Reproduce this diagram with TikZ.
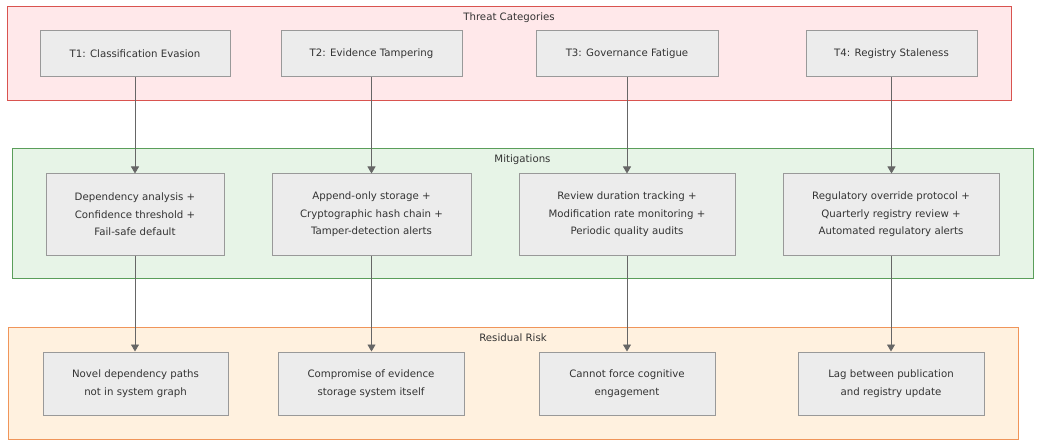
\documentclass[tikz,border=0pt]{standalone}
\usepackage{fontspec}
\setmainfont{DejaVu Sans}
\usetikzlibrary{arrows.meta}
\definecolor{redfill}{HTML}{FFE8EA}
\definecolor{redline}{HTML}{D9534F}
\definecolor{greenfill}{HTML}{E7F4E7}
\definecolor{greenline}{HTML}{5A9E5A}
\definecolor{orangefill}{HTML}{FFF1DF}
\definecolor{orangeline}{HTML}{F0955A}
\definecolor{nodefill}{HTML}{ECECEC}
\definecolor{nodeline}{HTML}{999999}
\definecolor{arrowcol}{HTML}{666666}
\definecolor{txt}{HTML}{333333}
\begin{document}
\begin{tikzpicture}[x=1pt,y=-1pt,
  grp/.style={draw, line width=1pt, inner sep=0pt},
  grptitle/.style={text=txt, font=\fontsize{10.2}{13}\selectfont, inner sep=0pt},
  box/.style={draw=nodeline, fill=nodefill, line width=1pt, inner sep=0pt, align=center,
    text=txt, font=\fontsize{10.2}{17.5}\selectfont},
  arr/.style={draw=arrowcol, line width=0.9pt, -{Triangle[width=8pt,length=7pt]}}
]
\useasboundingbox (0,0) rectangle (1040,446);
\node[grp, draw=redline, fill=redfill, minimum width=1004pt, minimum height=94pt] (gT) at (509,54) {};
\node[grp, draw=greenline, fill=greenfill, minimum width=1021pt, minimum height=129pt] (gM) at (522.5,213.5) {};
\node[grp, draw=orangeline, fill=orangefill, minimum width=1010pt, minimum height=112pt] (gR) at (513,383) {};
\node[grptitle] (tT) at (509,17.5) {Threat Categories};
\node[grptitle] (tM) at (522.5,159.5) {Mitigations};
\node[grptitle] (tR) at (513,337.5) {Residual Risk};

\node[box, minimum width=190pt, minimum height=46pt] (T1) at (135,54) {T1: Classification Evasion};
\node[box, minimum width=181pt, minimum height=46pt] (T2) at (371.5,54) {T2: Evidence Tampering};
\node[box, minimum width=182pt, minimum height=46pt] (T3) at (627,54) {T3: Governance Fatigue};
\node[box, minimum width=171pt, minimum height=46pt] (T4) at (891.5,54) {T4: Registry Staleness};

\node[box, minimum width=178pt, minimum height=81pt] (M1) at (135,214.5) {Dependency analysis +\\Confidence threshold +\\Fail-safe default};
\node[box, minimum width=199pt, minimum height=81pt] (M2) at (371.5,214.5) {Append-only storage +\\Cryptographic hash chain +\\Tamper-detection alerts};
\node[box, minimum width=216pt, minimum height=81pt] (M3) at (627,214.5) {Review duration tracking +\\Modification rate monitoring +\\Periodic quality audits};
\node[box, minimum width=216pt, minimum height=81pt] (M4) at (891,214.5) {Regulatory override protocol +\\Quarterly registry review +\\Automated regulatory alerts};

\node[box, minimum width=185pt, minimum height=63pt] (R1) at (135.5,383.5) {Novel dependency paths\\not in system graph};
\node[box, minimum width=186pt, minimum height=63pt] (R2) at (371,383.5) {Compromise of evidence\\storage system itself};
\node[box, minimum width=176pt, minimum height=63pt] (R3) at (627,383.5) {Cannot force cognitive\\engagement};
\node[box, minimum width=186pt, minimum height=63pt] (R4) at (891,383.5) {Lag between publication\\and registry update};

\foreach \i in {1,2,3,4}{
  \draw[arr] (T\i.south) -- (T\i.south |- M\i.north);
  \draw[arr] (M\i.south) -- (M\i.south |- R\i.north);
}
\end{tikzpicture}
\end{document}
